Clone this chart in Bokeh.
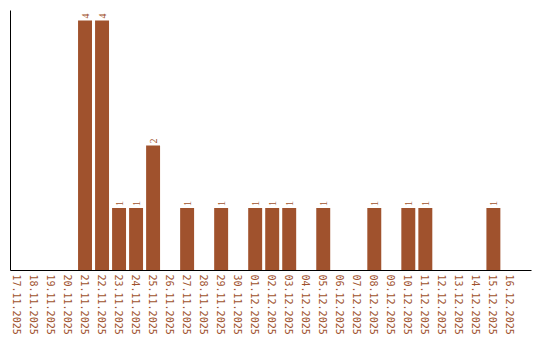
import math
from bokeh.plotting import figure
from bokeh.models import ColumnDataSource, Range1d, FixedTicker, LabelSet
from bokeh.embed import file_html
from bokeh.resources import INLINE

dates = ["17.11.2025", "18.11.2025", "19.11.2025", "20.11.2025", "21.11.2025",
         "22.11.2025", "23.11.2025", "24.11.2025", "25.11.2025", "26.11.2025",
         "27.11.2025", "28.11.2025", "29.11.2025", "30.11.2025", "01.12.2025",
         "02.12.2025", "03.12.2025", "04.12.2025", "05.12.2025", "06.12.2025",
         "07.12.2025", "08.12.2025", "09.12.2025", "10.12.2025", "11.12.2025",
         "12.12.2025", "13.12.2025", "14.12.2025", "15.12.2025", "16.12.2025"]
counts = [0, 0, 0, 0, 4,
          4, 1, 1, 2, 0,
          1, 0, 1, 0, 1,
          1, 1, 0, 1, 0,
          0, 1, 0, 1, 1,
          0, 0, 0, 1, 0]

BROWN = "#A0522D"
FONT = "DejaVu Sans Mono"

idx = list(range(len(dates)))
src = ColumnDataSource(dict(x=idx, top=counts, date=dates))
nz = [i for i, c in zip(idx, counts) if c > 0]
lab_src = ColumnDataSource(dict(x=nz, y=[counts[i] for i in nz],
                                text=[str(counts[i]) for i in nz]))

p = figure(width=540, height=340,
           x_range=Range1d(-0.38, 30.24), y_range=Range1d(0, 4.16),
           output_backend="svg", toolbar_location=None,
           min_border_left=10, min_border_right=9,
           min_border_top=10, min_border_bottom=70)

p.vbar(x="x", top="top", width=0.82, source=src,
       fill_color=BROWN, line_color=None)

labels = LabelSet(x="x", y="y", text="text", source=lab_src,
                  angle=math.pi / 2, text_align="left", text_baseline="middle",
                  y_offset=2, text_color=BROWN, text_font=FONT,
                  text_font_size="10px")
p.add_layout(labels)

p.xgrid.visible = False
p.ygrid.visible = False
p.outline_line_color = None
p.background_fill_color = "white"
p.border_fill_color = "white"

xa = p.xaxis[0]
xa.ticker = FixedTicker(ticks=idx)
xa.major_label_overrides = {i: d for i, d in zip(idx, dates)}
xa.major_label_orientation = "vertical"
xa.major_tick_line_color = None
xa.minor_tick_line_color = None
xa.major_tick_out = 0
xa.major_tick_in = 0
xa.major_label_standoff = 4
xa.major_label_text_color = BROWN
xa.major_label_text_font = FONT
xa.major_label_text_font_size = "10px"
xa.axis_line_color = "black"
xa.axis_line_width = 1

ya = p.yaxis[0]
ya.ticker = FixedTicker(ticks=[])
ya.major_tick_line_color = None
ya.minor_tick_line_color = None
ya.major_tick_out = 0
ya.major_tick_in = 0
ya.major_label_text_font_size = "0px"
ya.axis_line_color = "black"
ya.axis_line_width = 1

open("out.html", "w").write(file_html(p, INLINE))
